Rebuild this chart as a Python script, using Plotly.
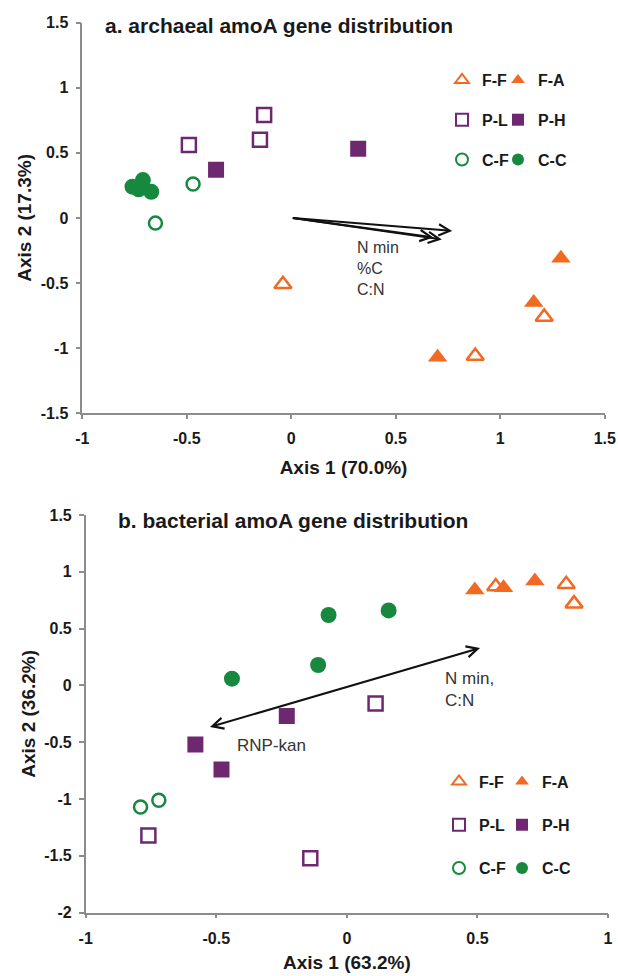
import plotly.graph_objects as go

# ---------------- data: panel a (archaeal amoA) ----------------
a_ff_x = [-0.04, 0.88, 1.21]
a_ff_y = [-0.51, -1.06, -0.76]
a_fa_x = [0.70, 1.16, 1.29]
a_fa_y = [-1.07, -0.65, -0.31]
a_pl_x = [-0.49, -0.13, -0.15]
a_pl_y = [0.56, 0.79, 0.60]
a_ph_x = [-0.36, 0.32]
a_ph_y = [0.37, 0.53]
a_cf_x = [-0.47, -0.65]
a_cf_y = [0.26, -0.04]
a_cc_x = [-0.76, -0.73, -0.71, -0.67]
a_cc_y = [0.24, 0.22, 0.29, 0.20]
a_vec_x = [0.77, 0.72, 0.68]
a_vec_y = [-0.10, -0.165, -0.15]
a_vec_label = "N min<br>%C<br>C:N"

# ---------------- data: panel b (bacterial amoA) ----------------
b_ff_x = [0.57, 0.84, 0.87]
b_ff_y = [0.87, 0.89, 0.72]
b_fa_x = [0.49, 0.60, 0.72]
b_fa_y = [0.84, 0.86, 0.92]
b_pl_x = [0.11, -0.76, -0.14]
b_pl_y = [-0.16, -1.32, -1.52]
b_ph_x = [-0.23, -0.58, -0.48]
b_ph_y = [-0.27, -0.52, -0.74]
b_cf_x = [-0.79, -0.72]
b_cf_y = [-1.07, -1.01]
b_cc_x = [-0.07, 0.16, -0.11, -0.44]
b_cc_y = [0.62, 0.66, 0.18, 0.06]
b_vec_x = [-0.53, 0.51]
b_vec_y = [-0.37, 0.33]
b_vec_label_pos = "N min,<br>C:N"
b_vec_label_neg = "RNP-kan"

# ---------------- axis ticks ----------------
a_xticks = [-1, -0.5, 0, 0.5, 1, 1.5]
a_xtext = ["-1", "-0.5", "0", "0.5", "1", "1.5"]
a_yticks = [-1.5, -1, -0.5, 0, 0.5, 1, 1.5]
a_ytext = ["-1.5", "-1", "-0.5", "0", "0.5", "1", "1.5"]
b_xticks = [-1, -0.5, 0, 0.5, 1]
b_xtext = ["-1", "-0.5", "0", "0.5", "1"]
b_yticks = [-2, -1.5, -1, -0.5, 0, 0.5, 1, 1.5]
b_ytext = ["-2", "-1.5", "-1", "-0.5", "0", "0.5", "1", "1.5"]

ORANGE = "#F26A21"
PURPLE = "#6E2870"
GREEN = "#17893F"
FONT = "Arial, Liberation Sans, sans-serif"
TXT = "#1a1a1a"

W, H = 618, 976
ML, MR, MT, MB = 80, 6, 20, 60
PW = W - ML - MR
PH = H - MT - MB


def fx(px):
    return (px - ML) / PW


def fy(py):
    return (H - MB - py) / PH


fig = go.Figure()

groups = [
    ("F-F", "triangle-up-open", ORANGE, 15, "L"),
    ("P-L", "square-open", PURPLE, 14, "L"),
    ("C-F", "circle-open", GREEN, 13, "L"),
    ("F-A", "triangle-up", ORANGE, 17, "R"),
    ("P-H", "square", PURPLE, 16, "R"),
    ("C-C", "circle", GREEN, 16, "R"),
]
a_data = {"F-F": (a_ff_x, a_ff_y), "F-A": (a_fa_x, a_fa_y), "P-L": (a_pl_x, a_pl_y),
          "P-H": (a_ph_x, a_ph_y), "C-F": (a_cf_x, a_cf_y), "C-C": (a_cc_x, a_cc_y)}
b_data = {"F-F": (b_ff_x, b_ff_y), "F-A": (b_fa_x, b_fa_y), "P-L": (b_pl_x, b_pl_y),
          "P-H": (b_ph_x, b_ph_y), "C-F": (b_cf_x, b_cf_y), "C-C": (b_cc_x, b_cc_y)}

for panel, data, xa, ya, legs in [("a", a_data, "x", "y", ("legend", "legend2")),
                                  ("b", b_data, "x2", "y2", ("legend3", "legend4"))]:
    for name, sym, col, size, side in groups:
        xs, ys = data[name]
        is_open = sym.endswith("open")
        fig.add_trace(go.Scatter(
            x=xs, y=ys, mode="markers", name=name,
            xaxis=xa, yaxis=ya,
            legend=legs[0] if side == "L" else legs[1],
            legendgroup=panel + name,
            marker=dict(symbol=sym, size=size, color=col,
                        line=dict(color=col, width=2.5 if is_open else 0)),
            hoverinfo="skip",
        ))

axis_common = dict(showline=True, linecolor="#8c8c8c", linewidth=1.5,
                   ticks="outside", tickcolor="#8c8c8c", tickwidth=1.5,
                   showgrid=False, zeroline=False, automargin=False,
                   tickfont=dict(family=FONT, size=16, color=TXT, weight="bold"))
title_font = dict(family=FONT, size=19, color=TXT, weight="bold")

fig.update_layout(
    width=W, height=H,
    margin=dict(l=ML, r=MR, t=MT, b=MB, autoexpand=False),
    paper_bgcolor="white", plot_bgcolor="white",
    xaxis=dict(axis_common, domain=[fx(82.3), fx(604.8)], anchor="y",
               range=[-1, 1.5], tickvals=a_xticks, ticktext=a_xtext, ticklen=4,
               ticklabelstandoff=6,
               title=dict(text="Axis 1 (70.0%)", font=title_font, standoff=14)),
    yaxis=dict(axis_common, domain=[fy(413.3), fy(22.5)], anchor="x",
               range=[-1.5, 1.5], tickvals=a_yticks, ticktext=a_ytext, ticklen=5,
               ticklabelstandoff=4,
               title=dict(text="Axis 2 (17.3%)", font=title_font, standoff=4)),
    xaxis2=dict(axis_common, domain=[fx(85.7), fx(608)], anchor="y2",
                range=[-1, 1], tickvals=b_xticks, ticktext=b_xtext, ticklen=4,
                ticklabelstandoff=6,
                title=dict(text="Axis 1 (63.2%)", font=title_font, standoff=10)),
    yaxis2=dict(axis_common, domain=[fy(912.7), fy(515)], anchor="x2",
                range=[-2, 1.5], tickvals=b_yticks, ticktext=b_ytext, ticklen=5,
                ticklabelstandoff=4,
                title=dict(text="Axis 2 (36.2%)", font=title_font, standoff=4)),
)

leg_common = dict(bgcolor="rgba(0,0,0,0)", borderwidth=0, itemsizing="constant",
                  orientation="v", xanchor="left", yanchor="top",
                  font=dict(family=FONT, size=16, color=TXT, weight="bold"))
fig.update_layout(
    legend=dict(leg_common, x=fx(442), y=fy(63), tracegroupgap=16),
    legend2=dict(leg_common, x=fx(498), y=fy(63), tracegroupgap=16),
    legend3=dict(leg_common, x=fx(439), y=fy(764.5), tracegroupgap=19.5),
    legend4=dict(leg_common, x=fx(502), y=fy(764.5), tracegroupgap=19.5),
)

ann = []
# panel titles
ann.append(dict(xref="x", yref="y", x=-0.9, y=1.48, xanchor="left", yanchor="middle",
                text="a. archaeal amoA gene distribution", showarrow=False,
                font=dict(family=FONT, size=21, color=TXT, weight="bold")))
ann.append(dict(xref="x2", yref="y2", x=-0.885, y=1.45, xanchor="left", yanchor="middle",
                text="b. bacterial amoA gene distribution", showarrow=False,
                font=dict(family=FONT, size=21, color=TXT, weight="bold")))
# panel a vectors
for vx, vy in zip(a_vec_x, a_vec_y):
    ann.append(dict(xref="x", yref="y", axref="x", ayref="y", x=vx, y=vy, ax=0, ay=0,
                    text="", showarrow=True, arrowhead=5, arrowsize=1.1, arrowwidth=2,
                    arrowcolor="#111111", standoff=0))
ann.append(dict(xref="x", yref="y", x=0.305, y=-0.386, xanchor="left", yanchor="middle",
                text=a_vec_label, showarrow=False, align="left",
                font=dict(family=FONT, size=16, color="#333333")))
# panel b vector (double-headed)
ann.append(dict(xref="x2", yref="y2", axref="x2", ayref="y2",
                x=b_vec_x[1], y=b_vec_y[1], ax=b_vec_x[0], ay=b_vec_y[0],
                text="", showarrow=True, arrowhead=5, startarrowhead=5,
                arrowside="end+start", arrowsize=1.1, startarrowsize=1.1, arrowwidth=2,
                arrowcolor="#111111", standoff=0, startstandoff=0))
ann.append(dict(xref="x2", yref="y2", x=0.37, y=-0.035, xanchor="left", yanchor="middle",
                text=b_vec_label_pos, showarrow=False, align="left",
                font=dict(family=FONT, size=17, color="#333333")))
ann.append(dict(xref="x2", yref="y2", x=-0.427, y=-0.526, xanchor="left", yanchor="middle",
                text=b_vec_label_neg, showarrow=False, align="left",
                font=dict(family=FONT, size=17, color="#333333")))
fig.update_layout(annotations=ann)

fig.write_html(
    "out.html",
    config={"displayModeBar": False},
    post_script="document.body.style.margin='0';document.body.style.overflow='hidden';",
)
